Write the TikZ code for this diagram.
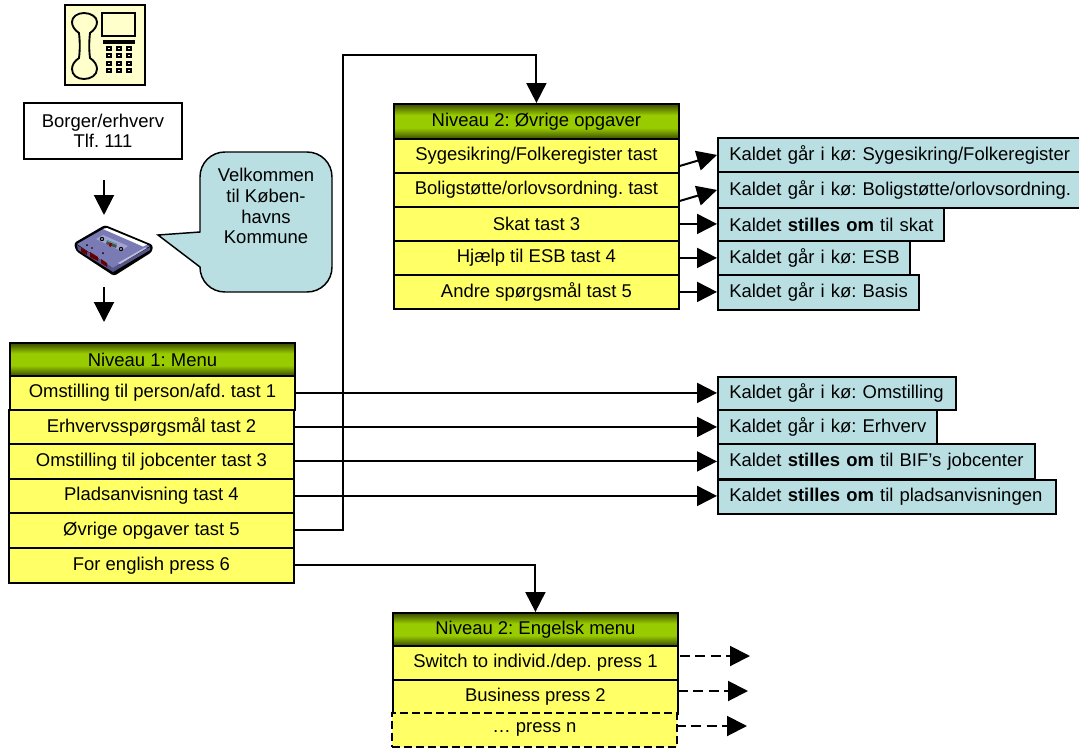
\documentclass[tikz,border=0pt]{standalone}
\usepackage{fontspec}
\setmainfont{Liberation Sans}
\frenchspacing
\usetikzlibrary{arrows.meta,calc}
\definecolor{rowyellow}{HTML}{FFFF66}
\definecolor{boxblue}{HTML}{B9DFE3}
\definecolor{phoneyellow}{HTML}{FFFFCC}
\definecolor{hdark}{HTML}{3A4A00}
\definecolor{hgreen}{HTML}{99CC00}
\definecolor{casA}{HTML}{7A7AB4}
\definecolor{casB}{HTML}{A4A4D2}
\definecolor{casC}{HTML}{55558A}
\pgfdeclareverticalshading{hdrshade}{100bp}{color(0bp)=(hdark);color(25bp)=(hdark);color(41bp)=(hgreen);color(59bp)=(hgreen);color(75bp)=(hdark);color(100bp)=(hdark)}
\tikzset{
  wh/.style 2 args={minimum width=#1*0.75pt,minimum height=#2*0.75pt},
  outl/.style={draw=black,line width=1.4pt,inner sep=0pt,anchor=north west,font=\fontsize{13.85}{16}\selectfont},
  hdr/.style={outl,shading=hdrshade,shading angle=0,wh={285}{#1}},
  rowbox/.style={outl,fill=rowyellow,wh={285}{#1}},
  dashrow/.style={rowbox=#1,dash pattern=on 6pt off 3pt},
  kbox/.style 2 args={outl,fill=boxblue,text width=#1*0.75pt,minimum height=#2*0.75pt},
  flow/.style={draw=black,line width=1.5pt,-{Triangle[length=15pt,width=15pt]}},
  dflow/.style={flow,dash pattern=on 7.5pt off 4pt},
}
\newcommand{\ktxt}[1]{\hspace*{8.5pt}#1}
\begin{document}
\begin{tikzpicture}[x=0.75pt,y=-0.75pt]
\useasboundingbox (0,0) rectangle (1079,747);

% telephone
\draw[fill=phoneyellow,line width=1.4pt] (65,5) rectangle (145,85);
\draw[line width=1.4pt,fill=phoneyellow] (79,33)
  .. controls (74.5,30) and (72,26) .. (72,22)
  .. controls (72,17) and (77,13) .. (84,13)
  .. controls (91,13) and (97,17) .. (97,22)
  .. controls (97,26) and (94.5,30) .. (90,33)
  .. controls (89,42) and (89,50) .. (90,58)
  .. controls (94.5,61) and (97,65) .. (97,69)
  .. controls (97,75) and (91,79) .. (84,79)
  .. controls (77,79) and (72,75) .. (72,69)
  .. controls (72,65) and (74.5,61) .. (79,58)
  .. controls (80,50) and (80,42) .. (79,33) -- cycle;
\draw[line width=1.4pt] (102,13) rectangle (135,36);
\fill (103,40) rectangle (135,43.5);
\foreach \yy in {46.5,54,61.5,68.5}
  \foreach \xx in {107,117,127}
    \draw[line width=1.5pt] (\xx,\yy) rectangle ++(4,3);

% caller box
\node[outl,fill=white,wh={158}{56},align=center,font=\fontsize{13.85}{15}\selectfont] (caller) at (23,102) {Borger/erhverv\\Tlf. 111};

% cassette
\fill[black,rounded corners=2pt] (74,243) -- (105,225) -- (153,245) -- (152,252) -- (114,276) -- (76,251) -- cycle;
\fill[casC] (77,245) -- (113,268) -- (150,247) -- (150,250) -- (113,272) -- (78,250) -- cycle;
\fill[casA] (77,244) -- (105,228) -- (150,246) -- (113,268) -- cycle;
\fill[white] (103,229) -- (107,228) -- (147,244.5) -- (143,246.5) -- cycle;
\fill[casB] (96,239) -- (103,235) -- (128,246) -- (121,251) -- cycle;
\fill[black] (102,239) circle (2.2);
\fill[black] (121,249) circle (2.2);
\fill[white] (102,239) circle (0.9);
\fill[white] (121,249) circle (0.9);
\fill[black!70] (107,240) -- (117,244) -- (116,248) -- (106,244) -- cycle;
\fill[red!50!black] (110,242) -- (112,243) -- (111,247) -- (109,246) -- cycle;
\fill[teal!70] (107,240) -- (117,244) -- (116.5,245) -- (106.5,241) -- cycle;
\fill[black] (87,245) circle (1);
\fill[black] (103,253) circle (1);
\fill[black] (92,248) circle (0.8);
\fill[red!40!black] (81,248) -- (87,251) -- (87,255) -- (81,252) -- cycle;
\fill[red!40!black] (90,252) -- (98,257) -- (98,261) -- (90,257) -- cycle;
\fill[red!40!black] (101,259) -- (107,263) -- (107,267) -- (101,263) -- cycle;
\fill[casB!70!white] (118,263) -- (145,247.5) -- (147,248) -- (120,264) -- cycle;

% speech bubble
\draw[fill=boxblue,line width=1.1pt] (158,235) -- (200,232) -- (200,177)
  .. controls (200,163) and (211,152) .. (225,152) -- (307,152)
  .. controls (321,152) and (332,163) .. (332,177) -- (332,267)
  .. controls (332,281) and (321,292) .. (307,292) -- (225,292)
  .. controls (211,292) and (200,281) .. (200,267) -- cycle;
\node[font=\fontsize{13.85}{15.6}\selectfont,align=center,inner sep=0pt] (velkommen) at (266,206) {Velkommen\\til Køben-\\havns\\Kommune};

% free-standing arrows
\coordinate (a1s) at (104,180); \coordinate (a1e) at (104,215);
\coordinate (a2s) at (104,287); \coordinate (a2e) at (104,322);
\draw[flow] (a1s) -- (a1e);
\draw[flow] (a2s) -- (a2e);

% level 1
\node[hdr=33] (m0) at (9,342) {Niveau 1: Menu};
\node[rowbox=34] (m1) at (9,375) {Omstilling til person/afd. tast 1};
\node[rowbox=34] (m2) at (8,409) {Erhvervsspørgsmål tast 2};
\node[rowbox=35] (m3) at (8,443) {Omstilling til jobcenter tast 3};
\node[rowbox=34] (m4) at (8,478) {Pladsanvisning tast 4};
\node[rowbox=35] (m5) at (8,512) {Øvrige opgaver tast 5};
\node[rowbox=35] (m6) at (8,547) {For english press 6};

% level 2 other
\node[hdr=35] (o0) at (393,103) {Niveau 2: Øvrige opgaver};
\node[rowbox=34] (o1) at (393,138) {Sygesikring/Folkeregister tast};
\node[rowbox=34] (o2) at (393,172) {Boligstøtte/orlovsordning. tast};
\node[rowbox=34] (o3) at (393,206) {Skat tast 3};
\node[rowbox=34] (o4) at (393,240) {Hjælp til ESB tast 4};
\node[rowbox=34] (o5) at (393,274) {Andre spørgsmål tast 5};

% level 2 english
\node[hdr=33] (e0) at (392,612) {Niveau 2: Engelsk menu};
\node[rowbox=34] (e1) at (392,645) {Switch to individ./dep. press 1};
\node[rowbox=34] (e2) at (392,679) {Business press 2};
\node[dashrow=34] (e3) at (391,712) {… press n};

% targets upper
\node[kbox={364}{34}] (k1) at (717,137) {\ktxt{Kaldet går i kø: Sygesikring/Folkeregister}};
\node[kbox={364}{36}] (k2) at (717,171) {\ktxt{Kaldet går i kø: Boligstøtte/orlovsordning.}};
\node[kbox={226}{33}] (k3) at (717,207) {\ktxt{Kaldet \textbf{stilles om} til skat}};
\node[kbox={192}{34}] (k4) at (717,240) {\ktxt{Kaldet går i kø: ESB}};
\node[kbox={201}{35}] (k5) at (717,274) {\ktxt{Kaldet går i kø: Basis}};

% targets lower
\node[kbox={238}{33}] (l1) at (717,376) {\ktxt{Kaldet går i kø: Omstilling}};
\node[kbox={219}{34}] (l2) at (717,409) {\ktxt{Kaldet går i kø: Erhverv}};
\node[kbox={317}{35}] (l3) at (717,443) {\ktxt{Kaldet \textbf{stilles om} til BIF’s jobcenter}};
\node[kbox={338}{34}] (l4) at (717,479) {\ktxt{Kaldet \textbf{stilles om} til pladsanvisningen}};

% connectors
\draw[flow] (m1.east) -- (m1.east -| l1.west);
\draw[flow] (m2.east) -- (m2.east -| l2.west);
\draw[flow] (m3.east) -- (m3.east -| l3.west);
\draw[flow] (m4.east) -- (m4.east -| l4.west);
\coordinate (up) at (343,55);
\draw[flow] (m5.east) -- (m5.east -| up) -- (up) -- (up -| o0.north) -- (o0.north);
\draw[flow] (m6.east) -- (m6.east -| e0.north) -- (e0.north);

\draw[flow] ($(o1.east)+(0,10)$) -- (k1.west);
\draw[flow] ($(o2.east)+(0,11)$) -- (k2.west);
\draw[flow] (o3.east) -- (o3.east -| k3.west);
\draw[flow] (o4.east) -- (o4.east -| k4.west);
\draw[flow] (o5.east) -- (o5.east -| k5.west);

\coordinate (ds1) at (680,656); \coordinate (d1) at (750,656);
\coordinate (ds2) at (678,691); \coordinate (d2) at (748,691);
\coordinate (ds3) at (676,726); \coordinate (d3) at (747,726);
\draw[dflow] (ds1) -- (d1);
\draw[dflow] (ds2) -- (d2);
\draw[dflow] (ds3) -- (d3);
\end{tikzpicture}
\end{document}
